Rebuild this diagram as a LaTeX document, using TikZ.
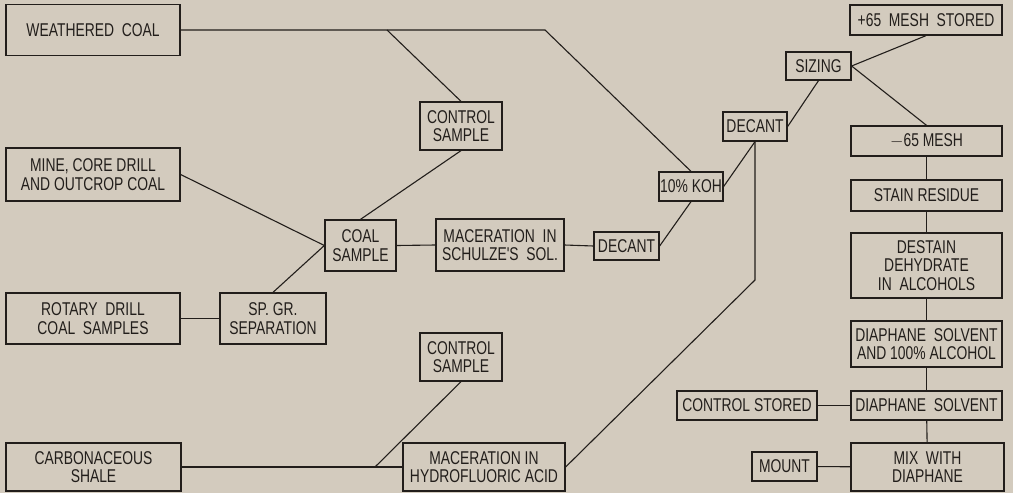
\documentclass[tikz,border=0pt]{standalone}
\usepackage{fontspec}
\usepackage{tikz}
\usetikzlibrary{positioning}
\newfontfamily\lettering[FakeStretch=0.75]{Liberation Sans}
\definecolor{paper}{RGB}{211,203,190}
\definecolor{ink}{RGB}{34,30,27}

\begin{document}
\begin{tikzpicture}[
  x=1pt, y=-1pt,
  box/.style={draw=ink, line width=1.3pt, align=center, inner sep=0pt,
              text=ink, font=\lettering\fontsize{18.5}{18.5}\selectfont},
  link/.style={draw=ink, line width=1.1pt}
]
  \fill[paper] (0,0) rectangle (1013,493);
  \useasboundingbox (0,0) rectangle (1013,493);

  \node[box, minimum width=174pt, minimum height=51pt] (weathered) at (93,30) {WEATHERED \ COAL};
  \node[box, minimum width=174pt, minimum height=53pt] (mine) at (93,174.5) {MINE, CORE DRILL\\AND OUTCROP COAL};
  \node[box, minimum width=174pt, minimum height=51pt] (rotary) at (93,318.5) {ROTARY \ DRILL\\COAL \ SAMPLES};
  \node[box, minimum width=175pt, minimum height=48pt] (shale) at (93.5,467) {CARBONACEOUS\\SHALE};

  \node[box, minimum width=71pt, minimum height=51pt] (coal) at (360.5,245.5) {COAL\\SAMPLE};
  \node[box, minimum width=106pt, minimum height=51pt] (spgr) at (273,318.5) {SP. GR.\\SEPARATION};
  \node[box, minimum width=82pt, minimum height=48pt] (ctrltop) at (461,126) {CONTROL\\SAMPLE};
  \node[box, minimum width=82pt, minimum height=48pt] (ctrlbot) at (461,357) {CONTROL\\SAMPLE};
  \node[box, minimum width=128pt, minimum height=52pt] (schulze) at (500,245) {MACERATION \ IN\\SCHULZE'S \ SOL.};
  \node[box, minimum width=162pt, minimum height=48pt] (hf) at (484,467) {MACERATION IN\\HYDROFLUORIC ACID};

  \node[box, minimum width=65pt, minimum height=28pt] (decantlow) at (626.5,246) {DECANT};
  \node[box, minimum width=64pt, minimum height=29pt] (koh) at (691,186.5) {10\% KOH};
  \node[box, minimum width=64pt, minimum height=29pt] (decanthigh) at (755,126.5) {DECANT};
  \node[box, minimum width=65pt, minimum height=28pt] (sizing) at (818.5,66) {SIZING};

  \node[box, minimum width=152pt, minimum height=30pt] (plus) at (926,20) {+65 \ MESH \ STORED};
  \node[box, minimum width=151pt, minimum height=30pt] (minus) at (926.5,141) {$-$65 MESH};
  \node[box, minimum width=151pt, minimum height=31pt] (stain) at (926.5,195.5) {STAIN RESIDUE};
  \node[box, minimum width=151pt, minimum height=65pt] (destain) at (926.5,265.5) {DESTAIN\\DEHYDRATE\\IN \ ALCOHOLS};
  \node[box, minimum width=151pt, minimum height=46pt] (solvalc) at (926.5,344) {DIAPHANE \ SOLVENT\\AND 100\% ALCOHOL};
  \node[box, minimum width=151pt, minimum height=29pt] (solvent) at (926.5,405.5) {DIAPHANE \ SOLVENT};
  \node[box, minimum width=153pt, minimum height=48pt] (mix) at (927.5,467) {MIX \ WITH\\DIAPHANE};
  \node[box, minimum width=140pt, minimum height=29pt] (stored) at (747,405.5) {CONTROL STORED};
  \node[box, minimum width=65pt, minimum height=29pt] (mount) at (784.5,466.5) {MOUNT};

  \coordinate (wbend) at (545,30);
  \coordinate (wsplit) at (387,30);
  \coordinate (ssplit) at (375,467);
  \coordinate (dbend) at (755,280);

  \draw[link] (weathered.east) -- (wbend) -- (koh.north);
  \draw[link] (wsplit) -- (ctrltop.north);
  \draw[link] (ctrltop.south) -- (coal.north);
  \draw[link] (mine.east) -- (coal.west);
  \draw[link] (spgr.north) -- (coal.west);
  \draw[link] (rotary.east) -- (spgr.west);
  \draw[link] (coal.east) -- (schulze.west);
  \draw[link] (schulze.east) -- (decantlow.west);
  \draw[link] (decantlow.east) -- (koh.south);
  \draw[link] (koh.east) -- (decanthigh.south);
  \draw[link] (decanthigh.east) -- (sizing.south);
  \draw[link] (sizing.east) -- (plus.south);
  \draw[link] (sizing.east) -- (minus.north);
  \draw[link] (minus) -- (stain);
  \draw[link] (stain) -- (destain);
  \draw[link] (destain) -- (solvalc);
  \draw[link] (solvalc) -- (solvent);
  \draw[link] (solvent) -- (mix);
  \draw[link] (stored) -- (solvent);
  \draw[link] (mount) -- (mix);
  \draw[link] (shale.east) -- (hf.west);
  \draw[link] (ssplit) -- (ctrlbot.south);
  \draw[link] (decanthigh.south) -- (dbend) -- (hf.east);
\end{tikzpicture}
\end{document}
